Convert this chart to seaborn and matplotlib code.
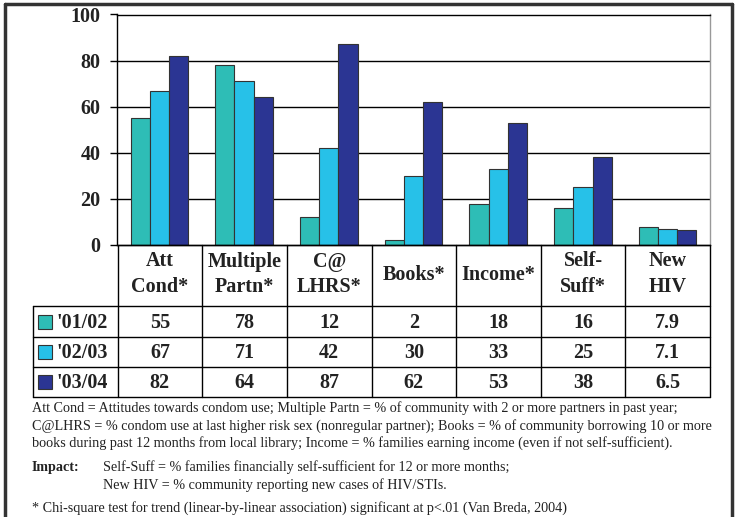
import matplotlib
matplotlib.use("Agg")
import matplotlib.pyplot as plt
import matplotlib.patches as mpatches
import seaborn as sns
import pandas as pd

categories = ["Att\nCond*", "Multiple\nPartn*", "C@\nLHRS*", "Books*", "Income*", "Self-\nSuff*", "New\nHIV"]
years = ["'01/02", "'02/03", "'03/04"]
vals_0102 = [55, 78, 12, 2, 18, 16, 7.9]
vals_0203 = [67, 71, 42, 30, 33, 25, 7.1]
vals_0304 = [82, 64, 87, 62, 53, 38, 6.5]
colors = ["#2EBDB6", "#27C1E8", "#2B3593"]
yticks = [0, 20, 40, 60, 80, 100]

series = [vals_0102, vals_0203, vals_0304]
rows = []
for yr, vals in zip(years, series):
    for c, v in zip(categories, vals):
        rows.append({"cat": c, "year": yr, "value": v})
df = pd.DataFrame(rows)

sns.set_style("white")
plt.rcParams["font.family"] = ["Liberation Serif", "DejaVu Serif"]

W, H = 740, 517
fig = plt.figure(figsize=(W / 100, H / 100), dpi=100)

def fx(px):
    return px / W

def fy(py):
    return 1 - py / H

# plot axes
L, R, T, B = 117, 710, 14.5, 245
ax = fig.add_axes([fx(L), fy(B), fx(R - L), (B - T) / H])
sns.barplot(data=df, x="cat", y="value", hue="year", palette=colors, width=0.68,
            edgecolor="#333333", linewidth=0.8, ax=ax, legend=False, saturation=1)
ax.set_xlim(-0.5, 6.5)
ax.set_ylim(0, 100)
ax.set_yticks(yticks)
ax.set_yticklabels([str(t) for t in yticks], fontsize=14.5, fontweight="bold", color="#222222")
ax.set_xticks([])
ax.set_xlabel("")
ax.set_ylabel("")
for t in yticks[1:-1]:
    ax.axhline(t, color="black", lw=1.0, zorder=0)
ax.tick_params(axis="y", length=5, width=1, color="black", pad=7, left=True)
for s in ["left", "top", "bottom"]:
    ax.spines[s].set_color("black")
    ax.spines[s].set_linewidth(1.0)
ax.spines["right"].set_color("#999999")
ax.spines["right"].set_linewidth(1.0)

# table axes
TL, TB = 33, 397
tax = fig.add_axes([fx(TL), fy(TB), fx(R - TL), (TB - B) / H])
tax.set_xlim(-1.5, 6.5)
tax.set_ylim(TB, B)
tax.axis("off")
hdr_bot = 306
row_lines = [306, 337, 367, 397]
lw = 1.0
tax.plot([-0.5, 6.5], [B, B], color="black", lw=lw, clip_on=False)
for y in row_lines:
    tax.plot([-1.5, 6.5], [y, y], color="black", lw=lw, clip_on=False)
for i in range(8):
    x = -0.5 + i
    tax.plot([x, x], [B, TB], color="black", lw=lw, clip_on=False)
tax.plot([-1.5, -1.5], [hdr_bot, TB], color="black", lw=lw, clip_on=False)

for i, c in enumerate(categories):
    tax.text(i, (B + hdr_bot) / 2 - 1, c, ha="center", va="center", fontsize=14.5,
             fontweight="bold", color="#222222", linespacing=1.4)

def fmt(v):
    return str(int(v)) if float(v).is_integer() else f"{v:.1f}"

for r, (yr, vals, col) in enumerate(zip(years, series, colors)):
    y0, y1 = row_lines[r], row_lines[r + 1]
    yc = (y0 + y1) / 2
    sq = 14
    tax.add_patch(mpatches.Rectangle((-1.5 + 5 / 84.7, yc + sq / 2), sq / 84.7, -sq,
                                     facecolor=col, edgecolor="#333333", lw=0.8))
    tax.text(-1.5 + 23 / 84.7, yc + 1, yr, ha="left", va="center", fontsize=14.5,
             fontweight="bold", color="#222222")
    for i, v in enumerate(vals):
        tax.text(i, yc + 1, fmt(v), ha="center", va="center", fontsize=14.5,
                 fontweight="bold", color="#222222")

# footnotes
fs = 10.2
notes = [
    (408, "Att Cond = Attitudes towards condom use; Multiple Partn = % of community with 2 or more partners in past year;"),
    (426, "C@LHRS = % condom use at last higher risk sex (nonregular partner); Books = % of community borrowing 10 or more"),
    (443, "books during past 12 months from local library; Income = % families earning income (even if not self-sufficient)."),
]
for y, s in notes:
    fig.text(fx(32), fy(y), s, ha="left", va="center", fontsize=fs, color="#222222")
fig.text(fx(32), fy(467), "Impact:", ha="left", va="center", fontsize=fs, fontweight="bold", color="#222222")
fig.text(fx(103), fy(467), "Self-Suff = % families financially self-sufficient for 12 or more months;",
         ha="left", va="center", fontsize=fs, color="#222222")
fig.text(fx(103), fy(485), "New HIV = % community reporting new cases of HIV/STIs.",
         ha="left", va="center", fontsize=fs, color="#222222")
fig.text(fx(32), fy(508), "* Chi-square test for trend (linear-by-linear association) significant at p<.01 (Van Breda, 2004)",
         ha="left", va="center", fontsize=fs, color="#222222")

# outer frame
fig.add_artist(plt.Line2D([fx(5), fx(5)], [fy(4), 0], color="#333333", lw=2.5))
fig.add_artist(plt.Line2D([fx(732), fx(732)], [fy(4), 0], color="#333333", lw=2.5))
fig.add_artist(plt.Line2D([fx(5), fx(732)], [fy(4), fy(4)], color="#333333", lw=2.5))

fig.savefig("out.png", dpi=100)
